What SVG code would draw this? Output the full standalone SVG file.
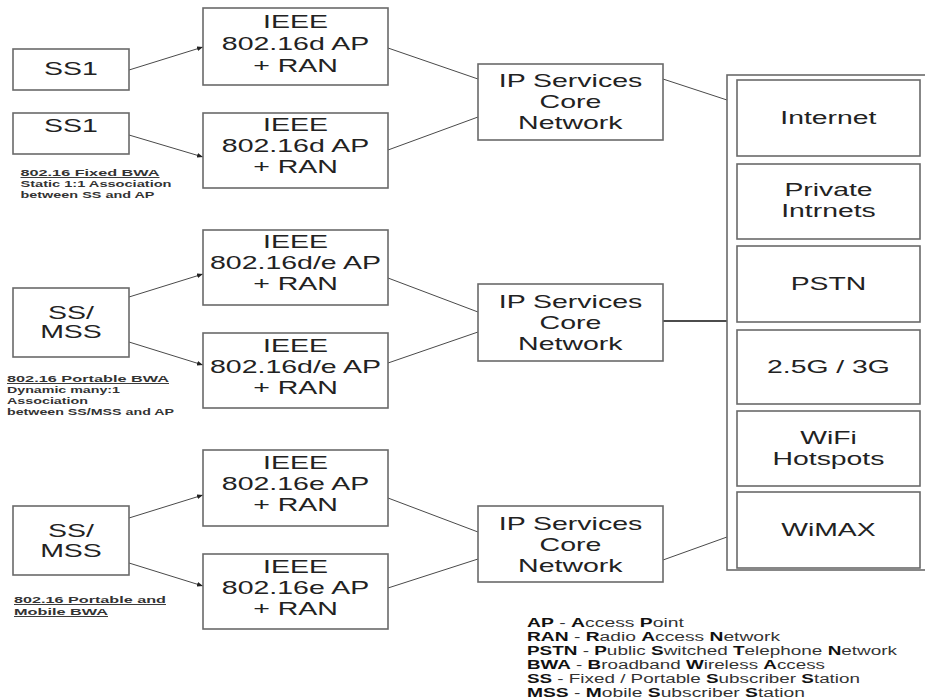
<svg xmlns="http://www.w3.org/2000/svg" width="925" height="700" viewBox="0 0 925 700">
<style>
  .box { fill: #fff; stroke: #6a6a6a; stroke-width: 1.6; }
  .t { font-family: "Liberation Sans", Arial, sans-serif; fill: #222; text-anchor: middle; }
  .b { font-size: 18.5px; transform-box: fill-box; transform-origin: center; transform: scaleX(1.54); }
  .r { font-size: 17.5px; transform-box: fill-box; transform-origin: center; transform: scaleX(1.62); }
  .cap { font-family: "Liberation Sans", Arial, sans-serif; font-size: 9.5px; font-weight: bold; fill: #333; }
  .u { text-decoration: underline; }
  .lg { font-family: "Liberation Sans", Arial, sans-serif; font-size: 12px; fill: #333; }
  .lg tspan.k { font-weight: bold; fill: #111; }
  .c { fill: none; stroke: #4a4a4a; stroke-width: 1; }
  .ca { fill: none; stroke: #4a4a4a; stroke-width: 1; marker-end: url(#ah); }
  .cb { fill: none; stroke: #111; stroke-width: 1.5; }
</style>
<defs>
  <marker id="ah" viewBox="0 0 10 10" refX="10" refY="5" markerWidth="6" markerHeight="6" orient="auto" markerUnits="userSpaceOnUse">
    <path d="M0,1 L10,5 L0,9 z" fill="#222"/>
  </marker>
</defs>
<rect width="925" height="700" fill="#fff"/>

<g id="connectors">
  <line class="ca" x1="129" y1="70" x2="203" y2="47"/>
  <line class="ca" x1="129" y1="135" x2="203" y2="157"/>
  <line class="ca" x1="129" y1="297" x2="203" y2="274"/>
  <line class="ca" x1="129" y1="342" x2="203" y2="365"/>
  <line class="ca" x1="129" y1="518" x2="203" y2="495"/>
  <line class="ca" x1="129" y1="563" x2="203" y2="586"/>
  <line class="c" x1="388" y1="48" x2="478" y2="79"/>
  <line class="c" x1="388" y1="150" x2="478" y2="117"/>
  <line class="c" x1="388" y1="278" x2="478" y2="312"/>
  <line class="c" x1="388" y1="363" x2="478" y2="332"/>
  <line class="c" x1="388" y1="498" x2="478" y2="532"/>
  <line class="c" x1="388" y1="588" x2="478" y2="559"/>
  <line class="c" x1="663" y1="79" x2="727" y2="100"/>
  <line class="cb" x1="663" y1="321" x2="737" y2="321"/>
  <line class="c" x1="663" y1="560" x2="727" y2="537"/>
</g>

<g id="ss1a"><rect class="box" x="13" y="49" width="116" height="41"/><text class="t b" x="71" y="75">SS1</text></g>
<g id="ss1b"><rect class="box" x="13" y="113" width="116" height="41"/><text class="t b" x="71" y="132">SS1</text></g>
<g id="ssmss1"><rect class="box" x="13" y="288" width="116" height="69"/><text class="t b" x="71" y="319">SS/</text><text class="t b" x="71" y="338">MSS</text></g>
<g id="ssmss2"><rect class="box" x="13" y="506" width="116" height="69"/><text class="t b" x="71" y="537">SS/</text><text class="t b" x="71" y="557">MSS</text></g>

<g id="cap1">
  <text class="cap u" x="20.5" y="176" textLength="139" lengthAdjust="spacingAndGlyphs">802.16 Fixed BWA</text>
  <text class="cap" x="20.5" y="187" textLength="151" lengthAdjust="spacingAndGlyphs">Static 1:1 Association</text>
  <text class="cap" x="20.5" y="198" textLength="134" lengthAdjust="spacingAndGlyphs">between SS and AP</text>
</g>
<g id="cap2">
  <text class="cap u" x="7" y="382" textLength="162" lengthAdjust="spacingAndGlyphs">802.16 Portable BWA</text>
  <text class="cap" x="7" y="393" textLength="113" lengthAdjust="spacingAndGlyphs">Dynamic many:1</text>
  <text class="cap" x="7" y="404" textLength="81" lengthAdjust="spacingAndGlyphs">Association</text>
  <text class="cap" x="7" y="415" textLength="167" lengthAdjust="spacingAndGlyphs">between SS/MSS and AP</text>
</g>
<g id="cap3">
  <text class="cap u" x="14" y="603" textLength="152" lengthAdjust="spacingAndGlyphs">802.16 Portable and</text>
  <text class="cap u" x="14" y="615" textLength="94" lengthAdjust="spacingAndGlyphs">Mobile BWA</text>
</g>

<g id="ap1"><rect class="box" x="203" y="8" width="185" height="77"/><text class="t b" x="295.5" y="28">IEEE</text><text class="t b" x="295.5" y="50">802.16d AP</text><text class="t b" x="295.5" y="72">+ RAN</text></g>
<g id="ap2"><rect class="box" x="203" y="113" width="185" height="75"/><text class="t b" x="295.5" y="131">IEEE</text><text class="t b" x="295.5" y="152">802.16d AP</text><text class="t b" x="295.5" y="173">+ RAN</text></g>
<g id="ap3"><rect class="box" x="203" y="230" width="185" height="75"/><text class="t b" x="295.5" y="248">IEEE</text><text class="t b" x="295.5" y="269">802.16d/e AP</text><text class="t b" x="295.5" y="290">+ RAN</text></g>
<g id="ap4"><rect class="box" x="203" y="333" width="185" height="75"/><text class="t b" x="295.5" y="352">IEEE</text><text class="t b" x="295.5" y="373">802.16d/e AP</text><text class="t b" x="295.5" y="394">+ RAN</text></g>
<g id="ap5"><rect class="box" x="203" y="450" width="185" height="76"/><text class="t b" x="295.5" y="469">IEEE</text><text class="t b" x="295.5" y="490">802.16e AP</text><text class="t b" x="295.5" y="511">+ RAN</text></g>
<g id="ap6"><rect class="box" x="203" y="554" width="185" height="75"/><text class="t b" x="295.5" y="573">IEEE</text><text class="t b" x="295.5" y="594">802.16e AP</text><text class="t b" x="295.5" y="615">+ RAN</text></g>

<g id="ip1"><rect class="box" x="478" y="64" width="185" height="76"/><text class="t b" x="570.5" y="87">IP Services</text><text class="t b" x="570.5" y="108">Core</text><text class="t b" x="570.5" y="129">Network</text></g>
<g id="ip2"><rect class="box" x="478" y="284" width="185" height="77"/><text class="t b" x="570.5" y="308">IP Services</text><text class="t b" x="570.5" y="329">Core</text><text class="t b" x="570.5" y="350">Network</text></g>
<g id="ip3"><rect class="box" x="478" y="506" width="185" height="76"/><text class="t b" x="570.5" y="530">IP Services</text><text class="t b" x="570.5" y="551">Core</text><text class="t b" x="570.5" y="572">Network</text></g>

<g id="networks">
  <rect class="box" x="727" y="75" width="202" height="495"/>
  <g id="internet"><rect class="box" x="737" y="80" width="183" height="76"/><text class="t r" x="828.5" y="124">Internet</text></g>
  <g id="private"><rect class="box" x="737" y="164" width="183" height="75"/><text class="t r" x="828.5" y="196">Private</text><text class="t r" x="828.5" y="217">Intrnets</text></g>
  <g id="pstn"><rect class="box" x="737" y="246" width="183" height="76"/><text class="t r" x="828.5" y="290">PSTN</text></g>
  <g id="g3g"><rect class="box" x="737" y="330" width="183" height="74"/><text class="t r" x="828.5" y="373">2.5G / 3G</text></g>
  <g id="wifi"><rect class="box" x="737" y="411" width="183" height="75"/><text class="t r" x="828.5" y="444">WiFi</text><text class="t r" x="828.5" y="465">Hotspots</text></g>
  <g id="wimax"><rect class="box" x="737" y="492" width="183" height="76"/><text class="t r" x="828.5" y="536">WiMAX</text></g>
</g>

<g id="legend">
  <text class="lg" x="527" y="627" textLength="157" lengthAdjust="spacingAndGlyphs"><tspan class="k">AP</tspan> - <tspan class="k">A</tspan>ccess <tspan class="k">P</tspan>oint</text>
  <text class="lg" x="527" y="641" textLength="253" lengthAdjust="spacingAndGlyphs"><tspan class="k">RAN</tspan> - <tspan class="k">R</tspan>adio <tspan class="k">A</tspan>ccess <tspan class="k">N</tspan>etwork</text>
  <text class="lg" x="527" y="655" textLength="370" lengthAdjust="spacingAndGlyphs"><tspan class="k">PSTN</tspan> - <tspan class="k">P</tspan>ublic <tspan class="k">S</tspan>witched <tspan class="k">T</tspan>elephone <tspan class="k">N</tspan>etwork</text>
  <text class="lg" x="527" y="669" textLength="298" lengthAdjust="spacingAndGlyphs"><tspan class="k">BWA</tspan> - <tspan class="k">B</tspan>roadband <tspan class="k">W</tspan>ireless <tspan class="k">A</tspan>ccess</text>
  <text class="lg" x="527" y="683" textLength="333" lengthAdjust="spacingAndGlyphs"><tspan class="k">SS</tspan> - Fixed / Portable <tspan class="k">S</tspan>ubscriber <tspan class="k">S</tspan>tation</text>
  <text class="lg" x="527" y="697" textLength="278" lengthAdjust="spacingAndGlyphs"><tspan class="k">MSS</tspan> - <tspan class="k">M</tspan>obile <tspan class="k">S</tspan>ubscriber <tspan class="k">S</tspan>tation</text>
</g>
</svg>
